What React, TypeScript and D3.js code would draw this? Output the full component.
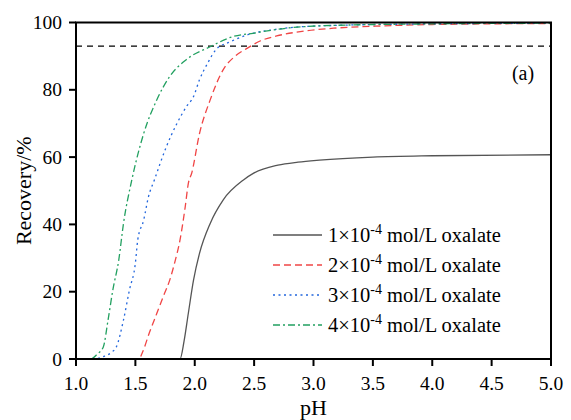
import React from "react";
import * as d3 from "d3";

const xTicks = [1.0, 1.5, 2.0, 2.5, 3.0, 3.5, 4.0, 4.5, 5.0];
const yTicks = [0, 20, 40, 60, 80, 100];

const ph1 = [1.0, 1.876, 1.91, 1.946, 1.99, 2.04, 2.13, 2.24, 2.41, 2.5, 2.7, 2.87, 3.05, 3.5, 4.0, 5.0];
const rec1 = [0, 0, 5.3, 13.6, 23.5, 31.4, 40.3, 47.3, 53.2, 55.3, 57.6, 58.5, 59.1, 60.0, 60.4, 60.7];

const ph2 = [1.0, 1.53, 1.56, 1.62, 1.68, 1.74, 1.79, 1.83, 1.876, 1.92, 1.946, 1.974, 2.04, 2.13, 2.24, 2.34, 2.44, 2.55, 2.69, 2.89, 3.17, 3.59, 4.0, 5.0];
const rec2 = [0, 0, 2, 8, 13.5, 19, 23.5, 28.5, 35.4, 45.3, 52.2, 55.2, 67, 77, 86, 90, 92.3, 94.5, 96, 97.3, 98.3, 99, 99.4, 99.7];

const ph3 = [1.0, 1.15, 1.23, 1.3, 1.34, 1.4, 1.45, 1.5, 1.52, 1.57, 1.61, 1.66, 1.76, 1.85, 1.93, 1.99, 2.04, 2.11, 2.18, 2.3, 2.44, 2.69, 3.05, 4.0, 5.0];
const rec3 = [0, 0, 0.7, 2, 3.6, 11.6, 20.5, 28.5, 35.4, 41.3, 48.2, 53.2, 63, 70, 75, 78, 83, 88, 92, 94.3, 96.3, 98, 99, 99.6, 99.8];

const ph4 = [1.0, 1.12, 1.18, 1.23, 1.27, 1.31, 1.36, 1.4, 1.47, 1.57, 1.68, 1.79, 1.93, 2.13, 2.32, 2.49, 2.77, 3.05, 4.0, 5.0];
const rec4 = [0, 0, 1.5, 3.6, 11.6, 20.5, 29.4, 40.3, 53.2, 67, 77, 84, 89, 92.8, 95.8, 96.8, 98.3, 99, 99.6, 99.8];

const refLine = 93;
const legendLabels = ["1", "2", "3", "4"];

const series = [
  { ph: ph1, rec: rec1, color: "#555555", dash: "none", label: legendLabels[0] },
  { ph: ph2, rec: rec2, color: "#f04545", dash: "7,4", label: legendLabels[1] },
  { ph: ph3, rec: rec3, color: "#2266dd", dash: "2,3.5", label: legendLabels[2] },
  { ph: ph4, rec: rec4, color: "#22a060", dash: "7,3,2,3", label: legendLabels[3] },
];

export default function App() {
  const W = 571, H = 420;
  const left = 76, right = 551, top = 22.5, bottom = 359;
  const x = d3.scaleLinear().domain([1, 5]).range([left, right]);
  const y = d3.scaleLinear().domain([0, 100]).range([bottom, top]);
  const font = "Liberation Serif";

  const line = d3
    .line<[number, number]>()
    .x((d) => x(d[0]))
    .y((d) => y(d[1]))
    .curve(d3.curveMonotoneX);

  return (
    <svg width={W} height={H} style={{ position: "absolute", left: 0, top: 0, fontFamily: font }}>
      <rect x={0} y={0} width={W} height={H} fill="#fff" />
      <line x1={left} x2={right} y1={y(refLine)} y2={y(refLine)} stroke="#000" strokeWidth={1.3} strokeDasharray="6,5" />
      {series.map((s, i) => (
        <path
          key={i}
          d={line(s.ph.map((p, j) => [p, s.rec[j]] as [number, number])) || ""}
          fill="none"
          stroke={s.color}
          strokeWidth={1.3}
          strokeDasharray={s.dash}
        />
      ))}
      <rect x={left} y={top} width={right - left} height={bottom - top} fill="none" stroke="#000" strokeWidth={2} />
      {xTicks.map((t) => (
        <g key={t}>
          <line x1={x(t)} x2={x(t)} y1={bottom} y2={bottom + 7} stroke="#000" strokeWidth={2} />
          <text x={x(t)} y={bottom + 31} textAnchor="middle" fontSize={19.5}>
            {t.toFixed(1)}
          </text>
        </g>
      ))}
      {yTicks.map((t) => (
        <g key={t}>
          <line x1={left} x2={left - 7} y1={y(t)} y2={y(t)} stroke="#000" strokeWidth={2} />
          <text x={left - 14} y={y(t) + 6.5} textAnchor="end" fontSize={19.5}>
            {t}
          </text>
        </g>
      ))}
      <text x={x(3)} y={415} textAnchor="middle" fontSize={22}>pH</text>
      <text transform={`translate(31,${(top + bottom) / 2}) rotate(-90)`} textAnchor="middle" fontSize={22}>
        Recovery/%
      </text>
      <text x={523} y={80} textAnchor="middle" fontSize={20}>(a)</text>
      {series.map((s, i) => {
        const cy = 235 + i * 30;
        return (
          <g key={i}>
            <line x1={273} x2={322} y1={cy} y2={cy} stroke={s.color} strokeWidth={1.3} strokeDasharray={s.dash} />
            <text x={328} y={cy + 7} fontSize={20.5}>
              {s.label}×10
              <tspan dy={-8} fontSize={14}>-4</tspan>
              <tspan dy={8}> mol/L oxalate</tspan>
            </text>
          </g>
        );
      })}
    </svg>
  );
}
